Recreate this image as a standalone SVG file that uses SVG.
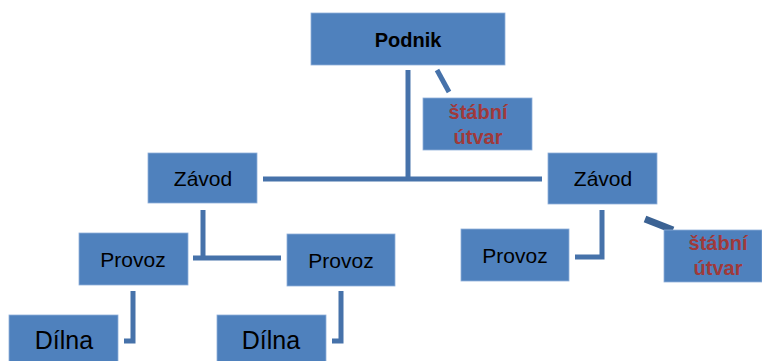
<svg xmlns="http://www.w3.org/2000/svg" width="762" height="361" viewBox="0 0 762 361">
<style>
.box{fill:#4F81BD;stroke:#8FB0DA;stroke-width:0.8}
.t{font-family:"Liberation Sans",Arial,sans-serif;font-size:21px;fill:#000;text-anchor:middle}
.p{font-weight:bold;font-size:20px}
.d{font-size:25px}
.s{font-family:"Liberation Sans",Arial,sans-serif;font-size:20px;font-weight:bold;fill:#A0393A;text-anchor:middle}
.c{fill:none;stroke:#4672AA;stroke-width:5}
</style>
<rect width="762" height="361" fill="#fff"/>
<g id="connectors">
<line class="c" x1="408" y1="70" x2="408" y2="181"/>
<line class="c" x1="263" y1="179" x2="542" y2="179"/>
<line class="c" x1="437" y1="70" x2="449" y2="92"/>
<polyline class="c" points="203,210 203,258"/>
<line class="c" x1="193" y1="258" x2="281" y2="258"/>
<polyline class="c" points="602,210 602,257 575,257"/>
<line x1="645" y1="219" x2="673" y2="230" stroke="#3B6293" stroke-width="7"/>
<polyline class="c" points="133,291 133,341 124,341"/>
<polyline class="c" points="341,291 341,341 332,341"/>
</g>
<g id="podnik"><rect class="box" x="311" y="13" width="194" height="52"/><text class="t p" x="408" y="47">Podnik</text></g>
<g id="stab1"><rect class="box" x="423" y="98" width="109" height="52"/><text class="s" x="478" y="119">štábní</text><text class="s" x="478" y="144">útvar</text></g>
<g id="zavod1"><rect class="box" x="148" y="153" width="109" height="50"/><text class="t" x="203" y="186">Závod</text></g>
<g id="zavod2"><rect class="box" x="548" y="153" width="109" height="51"/><text class="t" x="603" y="186">Závod</text></g>
<g id="provoz1"><rect class="box" x="79" y="233" width="109" height="52"/><text class="t" x="133" y="267">Provoz</text></g>
<g id="provoz2"><rect class="box" x="287" y="234" width="108" height="52"/><text class="t" x="341" y="268">Provoz</text></g>
<g id="provoz3"><rect class="box" x="461" y="229" width="108" height="52"/><text class="t" x="515" y="263">Provoz</text></g>
<g id="stab2"><rect class="box" x="664" y="230" width="98" height="52"/><text class="s" x="718" y="250">štábní</text><text class="s" x="718" y="275">útvar</text></g>
<g id="dilna1"><rect class="box" x="9" y="315" width="109" height="50"/><text class="t d" x="64" y="349">Dílna</text></g>
<g id="dilna2"><rect class="box" x="217" y="315" width="109" height="50"/><text class="t d" x="271" y="349">Dílna</text></g>
</svg>
